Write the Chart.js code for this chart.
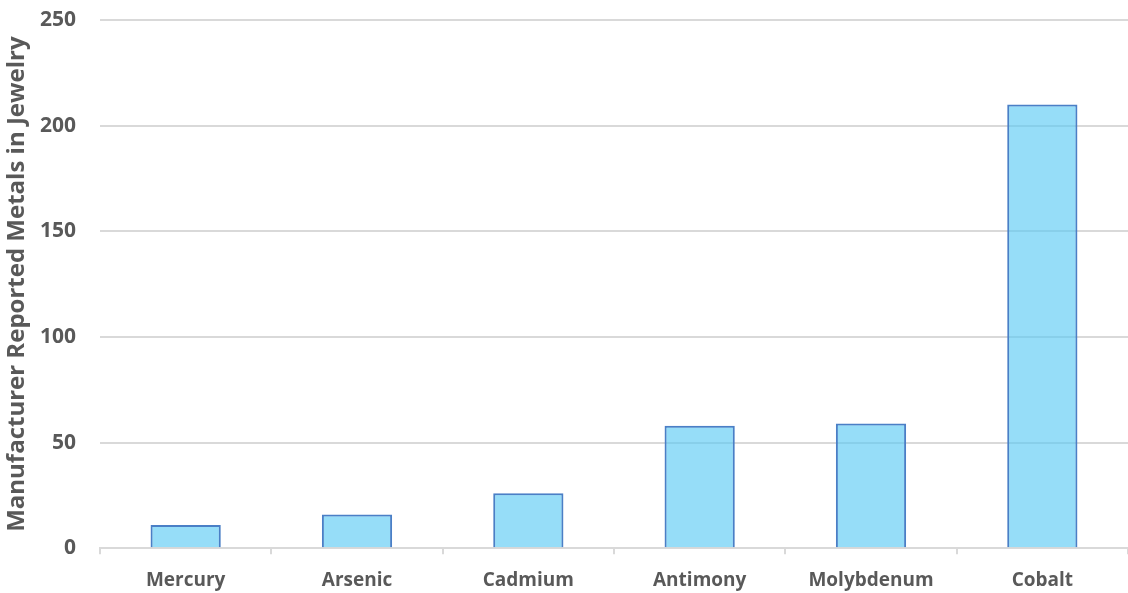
<!DOCTYPE html>
<html>
<head>
<meta charset="utf-8">
<script src="https://cdn.jsdelivr.net/npm/chart.js@4"></script>
<style>
  html, body { margin: 0; padding: 0; background: #ffffff; }
  #wrap { width: 1128px; height: 593px; }
</style>
</head>
<body>
<div id="wrap"><canvas id="grafico" width="1128" height="593"></canvas></div>
<script>
// dados do gráfico
const metais = ['Mercury', 'Arsenic', 'Cadmium', 'Antimony', 'Molybdenum', 'Cobalt'];
const quantidades = [11, 16, 26, 58, 59, 210];
const tituloEixoY = 'Manufacturer Reported Metals in Jewelry';

const fonte = "'Open Sans', 'Liberation Sans', sans-serif";
const corTexto = '#595959';
const corGrade = '#d9d9d9';

const ctx = document.getElementById('grafico').getContext('2d');
new Chart(ctx, {
    type: 'bar',
    data: {
        labels: metais,
        datasets: [{
            data: quantidades,
            backgroundColor: 'rgba(86, 200, 243, 0.62)',
            borderColor: '#4a7fc6',
            borderWidth: 2,
            categoryPercentage: 0.41,
            barPercentage: 1.0
        }]
    },
    options: {
        responsive: false,
        animation: false,
        layout: { padding: { top: 20, right: 0, left: 3, bottom: -14 } },
        plugins: {
            legend: { display: false },
            tooltip: { enabled: false }
        },
        scales: {
            x: {
                grid: {
                    display: true,
                    offset: true,
                    drawOnChartArea: false,
                    tickLength: 6,
                    color: corGrade,
                    lineWidth: 2
                },
                border: { display: true, color: corGrade, width: 2 },
                ticks: {
                    color: corTexto,
                    font: { family: fonte, size: 19, weight: 'bold' },
                    padding: 15
                }
            },
            y: {
                min: 0,
                max: 250,
                afterFit: function(scale) {
                    // largura fixa do eixo e sem folga extra em cima
                    scale.width = 97;
                    scale.paddingTop = 0;
                    scale.paddingBottom = 0;
                },
                ticks: {
                    stepSize: 50,
                    color: corTexto,
                    font: { family: fonte, size: 21, weight: 'bold' },
                    padding: 24
                },
                grid: { color: corGrade, lineWidth: 2, drawTicks: false },
                border: { display: false },
                title: {
                    display: true,
                    text: tituloEixoY,
                    color: corTexto,
                    font: { family: fonte, size: 24, weight: 'bold' },
                    padding: { top: 0, bottom: 10 }
                }
            }
        }
    }
});
</script>
</body>
</html>
